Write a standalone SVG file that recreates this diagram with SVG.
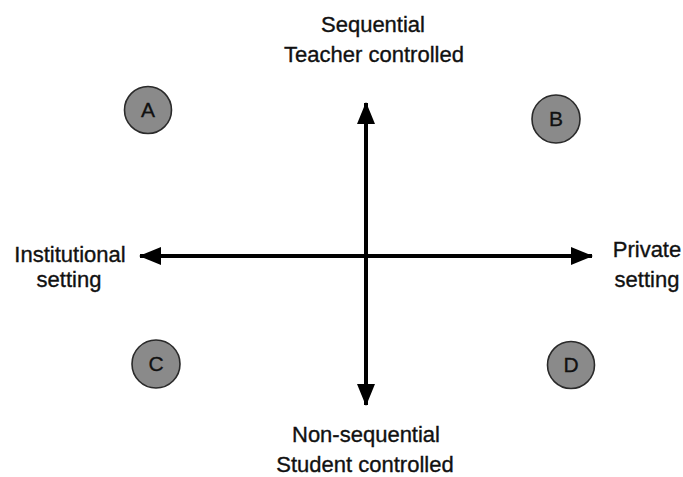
<svg xmlns="http://www.w3.org/2000/svg" width="683" height="477" viewBox="0 0 683 477">
<style>
.lbl{font-family:"Liberation Sans",Arial,sans-serif;font-size:22px;fill:#111;stroke:#111;stroke-width:0.35;text-anchor:middle}
.node circle{fill:#8a8a8a;stroke:#2a2a2a;stroke-width:1.6}
.node text{font-family:"Liberation Sans",Arial,sans-serif;font-size:21px;fill:#111;stroke:#111;stroke-width:0.3;text-anchor:middle}
.axis{stroke:#000;stroke-width:4;fill:none;marker-end:url(#ah)}
</style>
<defs>
<marker id="ah" markerUnits="userSpaceOnUse" markerWidth="22" markerHeight="20" viewBox="0 0 22 20" refX="21" refY="10" orient="auto">
<path d="M0,1 L22,10 L0,19 Z" fill="#000"/>
</marker>
</defs>
<rect width="683" height="477" fill="#fff"/>
<g id="connectors">
<line class="axis" x1="366" y1="256" x2="366" y2="103"/>
<line class="axis" x1="366" y1="256" x2="366" y2="405"/>
<line class="axis" x1="366" y1="256" x2="140" y2="256"/>
<line class="axis" x1="366" y1="256" x2="592" y2="256"/>
</g>
<g id="label-top"><text class="lbl" x="373" y="32">Sequential</text><text class="lbl" x="374" y="62">Teacher controlled</text></g>
<g id="label-left"><text class="lbl" x="70" y="262">Institutional</text><text class="lbl" x="69" y="287">setting</text></g>
<g id="label-right"><text class="lbl" x="647" y="257">Private</text><text class="lbl" x="647" y="287">setting</text></g>
<g id="label-bottom"><text class="lbl" x="366" y="442">Non-sequential</text><text class="lbl" x="365" y="472">Student controlled</text></g>
<g id="node-A" class="node"><circle cx="148" cy="110" r="23.5"/><text x="148" y="117">A</text></g>
<g id="node-B" class="node"><circle cx="556" cy="119" r="24"/><text x="556" y="126">B</text></g>
<g id="node-C" class="node"><circle cx="156" cy="364" r="24"/><text x="156" y="371">C</text></g>
<g id="node-D" class="node"><circle cx="571" cy="365" r="23.5"/><text x="571" y="372">D</text></g>
</svg>
